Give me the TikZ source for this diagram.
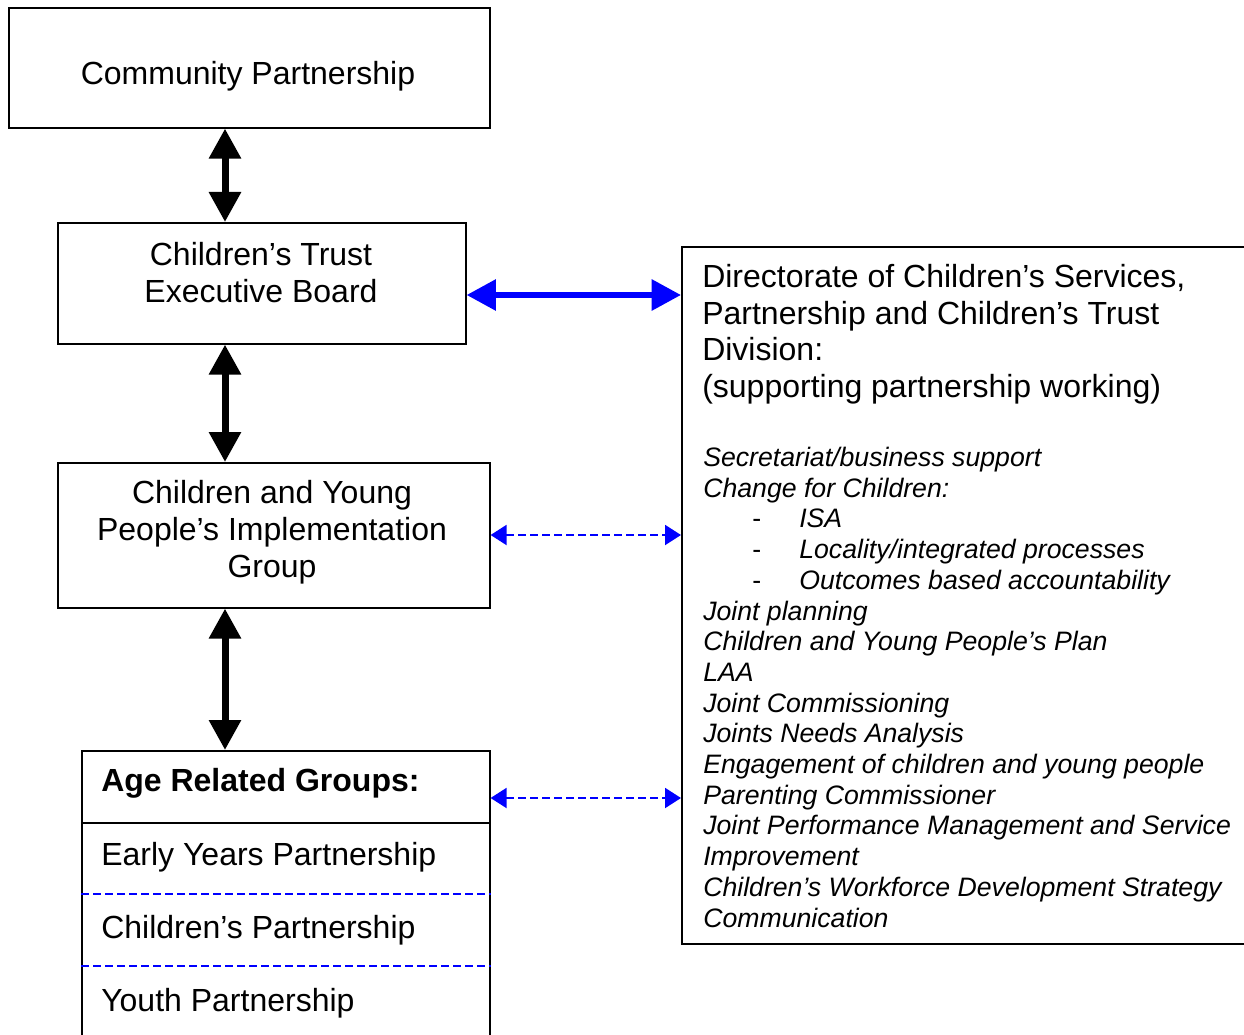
\documentclass[tikz,border=0pt]{standalone}
\usepackage{fontspec}
\setmainfont{Liberation Sans}
\usetikzlibrary{arrows.meta}
\begin{document}
\begin{tikzpicture}[x=0.75pt,y=-0.75pt,
  box/.style={draw, line width=1.2pt, inner sep=0pt, anchor=north west},
  lbl/.style={font=\fontsize{24}{27.75}\selectfont, align=center, inner sep=0pt},
  lft/.style={font=\fontsize{24}{27.75}\selectfont, anchor=west, inner sep=0pt},
  big/.style={font=\fontsize{24}{27.75}\selectfont, anchor=base west, inner sep=0pt},
  itm/.style={font=\fontsize{20}{23}\selectfont\itshape, anchor=base west, inner sep=0pt},
  blk/.style={line width=5.25pt, {Triangle[length=22.5pt,width=23pt]}-{Triangle[length=22.5pt,width=23pt]}},
  bsol/.style={blue, line width=4.5pt, {Triangle[length=22pt,width=22.5pt]}-{Triangle[length=22pt,width=22.5pt]}},
  bdash/.style={blue, line width=1.5pt, dash pattern=on 6pt off 3pt, {Triangle[length=12pt,width=15pt]}-{Triangle[length=12pt,width=15pt]}},
  sep/.style={blue, line width=1.1pt, dash pattern=on 6pt off 3pt},
]
\useasboundingbox (0,0) rectangle (1244,1034);
% boxes
\node[box, minimum width=481*0.75pt, minimum height=120*0.75pt] (cp) at (8,7) {};
\node[box, minimum width=408*0.75pt, minimum height=121*0.75pt] (ctb) at (57,222) {};
\node[box, minimum width=432*0.75pt, minimum height=145*0.75pt] (cyp) at (57,462) {};
\node[box, minimum width=408*0.75pt, minimum height=300*0.75pt] (arg) at (81,750) {};
\node[box, minimum width=580*0.75pt, minimum height=697*0.75pt] (dir) at (681,246) {};
% labels
\node[lbl] (cpt) at (248,76) {Community Partnership};
\node[lbl] (ctbt) at (261,273) {Children’s Trust\\Executive Board};
\node[lbl] (cypt) at (272,532.5) {Children and Young\\People’s Implementation\\Group};
\node[lft, font=\fontsize{24}{27.75}\selectfont\bfseries] (argt) at (101,783) {Age Related Groups:};
\node[lft] (eyp) at (101,857) {Early Years Partnership};
\node[lft] (chp) at (101,930) {Children’s Partnership};
\node[lft] (yp) at (101,1003) {Youth Partnership};
% dividers in age related box
\coordinate (d1) at (0,823);
\coordinate (d2) at (0,894);
\coordinate (d3) at (0,966);
\draw[line width=1.2pt] (arg.west |- d1) -- (arg.east |- d1);
\draw[sep] (arg.west |- d2) -- (arg.east |- d2);
\draw[sep] (arg.west |- d3) -- (arg.east |- d3);
% right text
\node[big] (r1) at (702,287) {Directorate of Children’s Services,};
\node[big] (r2) at (702,324) {Partnership and Children’s Trust};
\node[big] (r3) at (702,360.5) {Division:};
\node[big] (r4) at (702,397) {(supporting partnership working)};
\foreach \t [count=\k from 0] in {Secretariat/business support,Change for Children:,,,,Joint planning,Children and Young People’s Plan,LAA,Joint Commissioning,Joints Needs Analysis,Engagement of children and young people,Parenting Commissioner,Joint Performance Management and Service,Improvement,Children’s Workforce Development Strategy,Communication}
  \node[itm] (i\k) at (703,466.5+30.7*\k) {\t};
\foreach \t [count=\k from 2] in {ISA,Locality/integrated processes,Outcomes based accountability}{
  \node[itm, font=\fontsize{20}{23}\selectfont] (ds\k) at (752,466.5+30.7*\k) {-};
  \node[itm] (it\k) at (799,466.5+30.7*\k) {\t};
}
% connectors
\coordinate (ax) at (225,0);
\coordinate (y1) at (0,295);
\coordinate (y2) at (0,535);
\coordinate (y3) at (0,798);
\draw[blk] (cp.south -| ax) -- (ctb.north -| ax);
\draw[blk] (ctb.south -| ax) -- (cyp.north -| ax);
\draw[blk] (cyp.south -| ax) -- (arg.north -| ax);
\draw[bsol] (ctb.east |- y1) -- (dir.west |- y1);
\draw[bdash] (cyp.east |- y2) -- (dir.west |- y2);
\draw[bdash] (arg.east |- y3) -- (dir.west |- y3);
\end{tikzpicture}
\end{document}
